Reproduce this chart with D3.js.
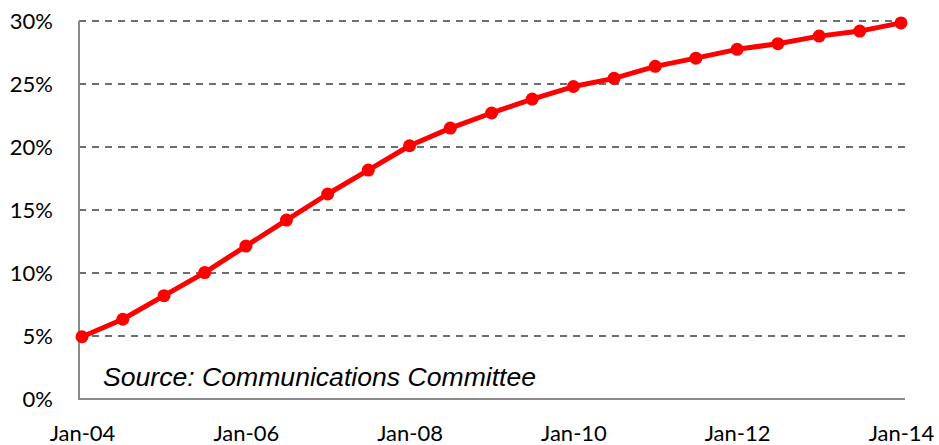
<!DOCTYPE html>
<html>
<head>
<meta charset="utf-8">
<script src="https://cdn.jsdelivr.net/npm/d3@7"></script>
<style>
  html, body { margin: 0; padding: 0; background: #fff; }
  svg { display: block; }
</style>
</head>
<body>
<svg id="chart" width="939" height="445"></svg>
<script>
// half-yearly observations, Jan-04 .. Jan-14
const dates = [
  "2004-01", "2004-07", "2005-01", "2005-07", "2006-01", "2006-07", "2007-01",
  "2007-07", "2008-01", "2008-07", "2009-01", "2009-07", "2010-01", "2010-07",
  "2011-01", "2011-07", "2012-01", "2012-07", "2013-01", "2013-07", "2014-01"
];
const share = [
  4.94, 6.33, 8.2, 10.03, 12.14, 14.2, 16.27,
  18.17, 20.1, 21.5, 22.7, 23.8, 24.8, 25.45,
  26.4, 27.05, 27.75, 28.2, 28.8, 29.2, 29.85
];
const yTicks = [0, 5, 10, 15, 20, 25, 30];
const xTickLabels = ["2004-01", "2006-01", "2008-01", "2010-01", "2012-01", "2014-01"];
const sourceNote = "Source: Communications Committee";

const parse = d3.timeParse("%Y-%m");
const data = dates.map((d, i) => ({ date: parse(d), value: share[i] }));

const svg = d3.select("#chart");
const plot = { left: 79, right: 905, top: 21, bottom: 399 };

const x = d3.scaleTime()
  .domain([parse(dates[0]), parse(dates[dates.length - 1])])
  .range([82, 901]);
const y = d3.scaleLinear().domain([0, 30]).range([plot.bottom, plot.top]);

const labelFont = "Lato, 'Open Sans', sans-serif";

// dashed gridlines (not at 0, the axis line sits there)
svg.append("g")
  .selectAll("line")
  .data(yTicks.filter(t => t > 0))
  .join("line")
  .attr("x1", plot.left)
  .attr("x2", plot.right)
  .attr("y1", d => y(d))
  .attr("y2", d => y(d))
  .attr("stroke", "#6e6e6e")
  .attr("stroke-width", 2)
  .attr("stroke-dasharray", "7,6");

// axis lines
svg.append("line")
  .attr("x1", plot.left).attr("x2", plot.left)
  .attr("y1", plot.top).attr("y2", plot.bottom + 1)
  .attr("stroke", "#8a8a8a").attr("stroke-width", 2);
svg.append("line")
  .attr("x1", plot.left - 1).attr("x2", plot.right)
  .attr("y1", plot.bottom).attr("y2", plot.bottom)
  .attr("stroke", "#8a8a8a").attr("stroke-width", 2);

// y tick labels
const yAxis = d3.axisLeft(y).tickValues(yTicks).tickFormat(d => d + "%").tickSize(0).tickPadding(0);
const gy = svg.append("g").attr("transform", "translate(53,0)").call(yAxis);
gy.select(".domain").remove();
gy.selectAll("text")
  .attr("font-family", labelFont)
  .attr("font-size", 22)
  .attr("fill", "#000")
  .attr("dy", "0.36em");

// x tick labels
const xAxis = d3.axisBottom(x)
  .tickValues(xTickLabels.map(parse))
  .tickFormat(d3.timeFormat("%b-%y"))
  .tickSize(0).tickPadding(0);
const gx = svg.append("g").attr("transform", "translate(0,425)").call(xAxis);
gx.select(".domain").remove();
gx.selectAll("text")
  .attr("font-family", labelFont)
  .attr("font-size", 22)
  .attr("fill", "#000")
  .attr("dy", "0.72em");

// source note
svg.append("text")
  .attr("x", 103)
  .attr("y", 386)
  .attr("font-family", "'Liberation Sans', Arial, sans-serif")
  .attr("font-style", "italic")
  .attr("font-size", 26.6)
  .attr("fill", "#000")
  .text(sourceNote);

// series
const line = d3.line().x(d => x(d.date)).y(d => y(d.value));
svg.append("path")
  .datum(data)
  .attr("d", line)
  .attr("fill", "none")
  .attr("stroke", "#ff0000")
  .attr("stroke-width", 5)
  .attr("stroke-linejoin", "round");

svg.append("g")
  .selectAll("circle")
  .data(data)
  .join("circle")
  .attr("cx", d => x(d.date))
  .attr("cy", d => y(d.value))
  .attr("r", 6.5)
  .attr("fill", "#ff0000");
</script>
</body>
</html>
